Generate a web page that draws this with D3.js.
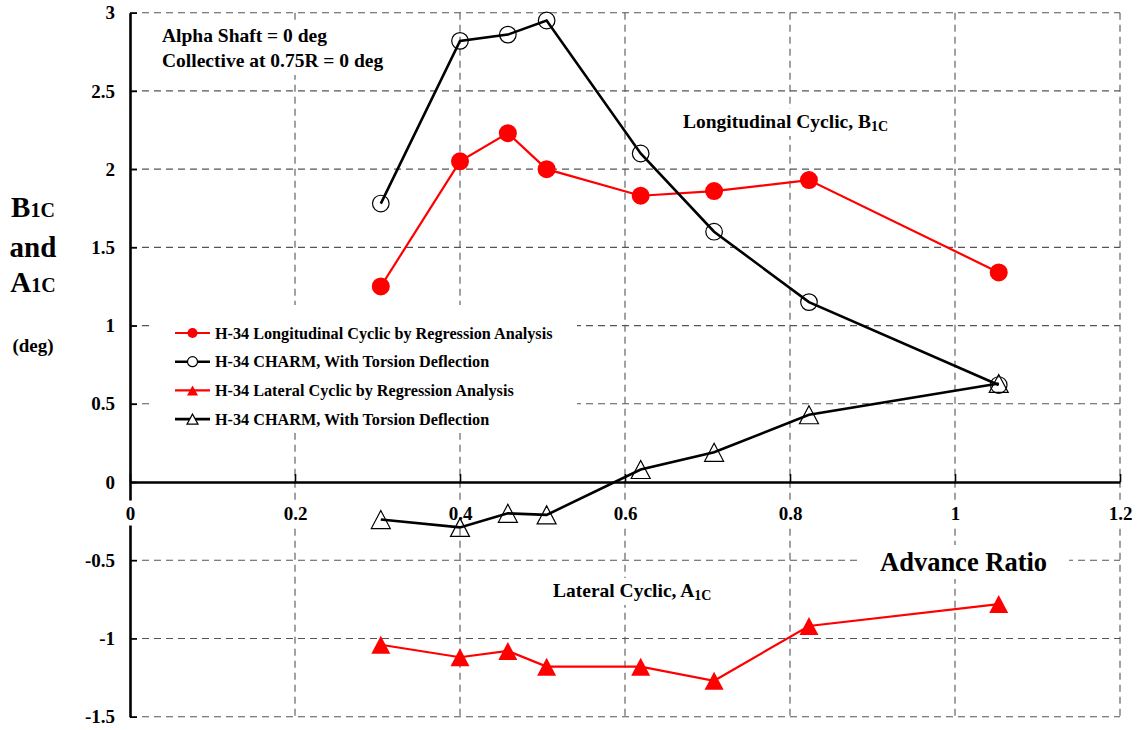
<!DOCTYPE html>
<html>
<head>
<meta charset="utf-8">
<script src="https://cdn.jsdelivr.net/npm/d3@7"></script>
<style>
  body { margin: 0; background: #fff; }
  svg { display: block; font-family: "Liberation Serif", "Times New Roman", serif; font-weight: bold; }
</style>
</head>
<body>
<div id="chart"></div>
<script>
// Advance ratio of each test point
var advanceRatio = [0.304, 0.400, 0.458, 0.505, 0.619, 0.708, 0.823, 1.053];
// Longitudinal cyclic B1C (deg)
var b1cRegression = [1.25, 2.05, 2.23, 2.00, 1.83, 1.86, 1.93, 1.34];
var b1cCharm = [1.78, 2.82, 2.86, 2.95, 2.10, 1.60, 1.15, 0.62];
// Lateral cyclic A1C (deg)
var a1cRegression = [-1.04, -1.12, -1.08, -1.18, -1.18, -1.27, -0.92, -0.78];
var a1cCharm = [-0.24, -0.29, -0.20, -0.21, 0.08, 0.19, 0.43, 0.63];

var xTicks = [0, 0.2, 0.4, 0.6, 0.8, 1, 1.2];
var xTickLabels = ["0", "0.2", "0.4", "0.6", "0.8", "1", "1.2"];
var yTicks = [-1.5, -1, -0.5, 0, 0.5, 1, 1.5, 2, 2.5, 3];
var yTickLabels = ["-1.5", "-1", "-0.5", "0", "0.5", "1", "1.5", "2", "2.5", "3"];

var seriesNames = [
  "H-34 Longitudinal Cyclic by Regression Analysis",
  "H-34 CHARM, With Torsion Deflection",
  "H-34 Lateral Cyclic by Regression Analysis",
  "H-34 CHARM, With Torsion Deflection"
];

var width = 1140, height = 730;

var xScale = d3.scaleLinear().domain([0, 1.2]).range([130, 1120]);
var yScale = d3.scaleLinear().domain([-1.5, 3]).range([716.7, 12.7]);

var svg = d3.select("#chart").append("svg")
  .attr("width", width)
  .attr("height", height);

svg.append("rect").attr("width", width).attr("height", height).attr("fill", "#fff");

// Dashed grid
var grid = svg.append("g").attr("class", "grid")
  .attr("stroke", "#555").attr("stroke-width", 1.1).attr("stroke-dasharray", "7,5");
grid.selectAll(".vgrid")
  .data(xTicks.filter(function(d) { return d > 0; }))
  .enter().append("line")
  .attr("x1", function(d) { return xScale(d); })
  .attr("x2", function(d) { return xScale(d); })
  .attr("y1", yScale(3))
  .attr("y2", yScale(-1.5));
grid.selectAll(".hgrid")
  .data(yTicks.filter(function(d) { return d != 0; }))
  .enter().append("line")
  .attr("x1", xScale(0))
  .attr("x2", xScale(1.2))
  .attr("y1", function(d) { return yScale(d); })
  .attr("y2", function(d) { return yScale(d); });

// Text with a white box behind it
function boxedText(parent, x, y, size, parts, pad) {
  var g = parent.append("g");
  var t = g.append("text").attr("x", x).attr("y", y).attr("font-size", size);
  parts.forEach(function(p) {
    var s = t.append("tspan").text(p.text);
    if (p.sub) s.attr("font-size", p.sub).attr("dy", p.dy || 0);
  });
  var bb = t.node().getBBox();
  pad = pad || 4;
  g.insert("rect", "text")
    .attr("x", bb.x - pad).attr("y", bb.y - 2)
    .attr("width", bb.width + 2 * pad).attr("height", bb.height + 4)
    .attr("fill", "#fff");
  return g;
}

var notes = svg.append("g");
var topNote = notes.append("g");
topNote.append("rect").attr("x", 152).attr("y", 22).attr("width", 250).attr("height", 53).attr("fill", "#fff");
topNote.append("text").attr("x", 162).attr("y", 42).attr("font-size", 19.5).text("Alpha Shaft = 0 deg");
topNote.append("text").attr("x", 162).attr("y", 67).attr("font-size", 19.5).text("Collective at 0.75R = 0 deg");

boxedText(notes, 683, 128, 19.5, [{text: "Longitudinal Cyclic, B"}, {text: "1C", sub: 14, dy: 3}], 8);
boxedText(notes, 553, 597, 19.5, [{text: "Lateral Cyclic, A"}, {text: "1C", sub: 14, dy: 3}], 6);
boxedText(notes, 880, 571, 26.5, [{text: "Advance Ratio"}], 22);

// Axes
var xAxis = d3.axisBottom(xScale)
  .tickValues(xTicks)
  .tickFormat(function(d, i) { return xTickLabels[i]; })
  .tickSizeInner(-8).tickSizeOuter(0).tickPadding(24);
var yAxis = d3.axisLeft(yScale)
  .tickValues(yTicks)
  .tickFormat(function(d, i) { return yTickLabels[i]; })
  .tickSizeInner(-7).tickSizeOuter(0).tickPadding(15);

var yAxisG = svg.append("g")
  .attr("transform", "translate(" + xScale(0) + ",0)")
  .call(yAxis);
var xAxisG = svg.append("g")
  .attr("transform", "translate(0," + yScale(0) + ")")
  .call(xAxis);

[xAxisG, yAxisG].forEach(function(ax) {
  ax.attr("font-family", null).attr("font-size", null);
  ax.select(".domain").attr("stroke", "#000").attr("stroke-width", 2.6);
  ax.selectAll(".tick line").attr("stroke", "#000").attr("stroke-width", 1.6);
  ax.selectAll(".tick text").attr("font-size", 19).attr("fill", "#000");
});
// white boxes behind x tick labels (they cut the grid and the y-axis)
xAxisG.selectAll(".tick").each(function() {
  var t = d3.select(this).select("text");
  var bb = t.node().getBBox();
  d3.select(this).insert("rect", "text")
    .attr("x", bb.x - 3).attr("y", bb.y - 2)
    .attr("width", bb.width + 6).attr("height", bb.height + 4)
    .attr("fill", "#fff");
});

// Y axis title
var ylab = svg.append("g").attr("text-anchor", "middle");
var b1 = ylab.append("text").attr("x", 33).attr("y", 217).attr("font-size", 29);
b1.append("tspan").text("B");
b1.append("tspan").attr("font-size", 20).text("1C");
ylab.append("text").attr("x", 33).attr("y", 257).attr("font-size", 29).text("and");
var a1 = ylab.append("text").attr("x", 33).attr("y", 292).attr("font-size", 29);
a1.append("tspan").text("A");
a1.append("tspan").attr("font-size", 20).text("1C");
ylab.append("text").attr("x", 33).attr("y", 352).attr("font-size", 19).text("(deg)");

// Legend
var legend = svg.append("g");
legend.append("rect").attr("x", 150).attr("y", 305).attr("width", 427).attr("height", 128).attr("fill", "#fff");

// Series
function triPath(w, h) {
  return "M0," + (-h / 2) + "L" + (w / 2) + "," + (h / 2) + "L" + (-w / 2) + "," + (h / 2) + "Z";
}

var series = [
  { name: seriesNames[0], values: b1cRegression, color: "#ff0000", width: 2.2, marker: "circle", fill: "#ff0000" },
  { name: seriesNames[1], values: b1cCharm, color: "#000", width: 2.6, marker: "circle", fill: "none" },
  { name: seriesNames[2], values: a1cRegression, color: "#ff0000", width: 2.2, marker: "tri", fill: "#ff0000" },
  { name: seriesNames[3], values: a1cCharm, color: "#000", width: 2.6, marker: "tri", fill: "none" }
];

var line = d3.line()
  .x(function(d) { return xScale(d.x); })
  .y(function(d) { return yScale(d.y); });

series.forEach(function(s, si) {
  var pts = advanceRatio.map(function(mu, i) { return { x: mu, y: s.values[i] }; });
  var g = svg.append("g");
  g.append("path").datum(pts)
    .attr("d", line)
    .attr("fill", "none")
    .attr("stroke", s.color)
    .attr("stroke-width", s.width);
  if (s.marker == "circle") {
    g.selectAll("circle").data(pts).enter().append("circle")
      .attr("cx", function(d) { return xScale(d.x); })
      .attr("cy", function(d) { return yScale(d.y); })
      .attr("r", s.fill == "none" ? 8.3 : 9)
      .attr("fill", s.fill)
      .attr("stroke", s.fill == "none" ? "#000" : "none")
      .attr("stroke-width", 1.2);
  } else {
    g.selectAll(".tri").data(pts).enter().append("path")
      .attr("transform", function(d) { return "translate(" + xScale(d.x) + "," + yScale(d.y) + ")"; })
      .attr("d", triPath(19, 18))
      .attr("fill", s.fill)
      .attr("stroke", s.fill == "none" ? "#000" : "none")
      .attr("stroke-width", 1.2);
  }

  // legend entry
  var ly = 333 + si * 28.7;
  legend.append("line").attr("x1", 175).attr("x2", 210).attr("y1", ly).attr("y2", ly)
    .attr("stroke", s.color).attr("stroke-width", s.width);
  if (s.marker == "circle") {
    legend.append("circle").attr("cx", 192.5).attr("cy", ly).attr("r", 5)
      .attr("fill", s.fill == "none" ? "#fff" : s.fill)
      .attr("stroke", s.fill == "none" ? "#000" : "none").attr("stroke-width", 1.2);
  } else {
    legend.append("path").attr("transform", "translate(192.5," + ly + ")")
      .attr("d", triPath(11, 10))
      .attr("fill", s.fill == "none" ? "#fff" : s.fill)
      .attr("stroke", s.fill == "none" ? "#000" : "none").attr("stroke-width", 1.2);
  }
  legend.append("text").attr("x", 215).attr("y", ly + 5.5).attr("font-size", 16.2).text(s.name);
});
</script>
</body>
</html>
